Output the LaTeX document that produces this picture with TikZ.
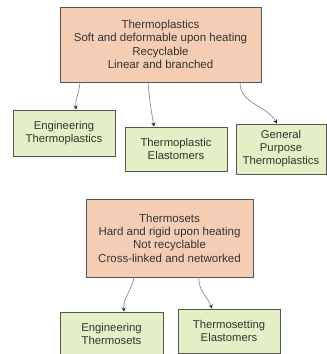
\documentclass[tikz,border=0pt]{standalone}
\usepackage{fontspec}
\setmainfont{Liberation Sans}
\usetikzlibrary{arrows.meta, calc}

\definecolor{peach}{HTML}{F5CDB5}
\definecolor{leaf}{HTML}{E3F0C5}
\definecolor{edge}{HTML}{555555}
\definecolor{ink}{HTML}{333333}

\tikzset{
  classbox/.style={draw=edge, line width=0.9pt, fill=peach, align=center,
    inner sep=0pt, text=ink, font=\fontsize{11.5}{13.3}\selectfont},
  typebox/.style={draw=edge, line width=0.9pt, fill=leaf, align=center,
    inner sep=0pt, text=ink, font=\fontsize{11.3}{13}\selectfont},
  link/.style={draw=black!45, line width=0.7pt,
    -{Stealth[length=4pt, width=4pt, color=black!85]}}
}

\begin{document}
\begin{tikzpicture}[x=1pt, y=1pt]
\useasboundingbox[fill=white] (0,0) rectangle (327,-354);

% thermoplastics
\node[classbox, minimum width=201pt, minimum height=75pt] (tp) at (160.5,-44.5)
  {Thermoplastics\\Soft and deformable upon heating\\Recyclable\\Linear and branched};
\node[typebox, minimum width=102pt, minimum height=46pt] (et) at (64,-133)
  {Engineering\\Thermoplastics};
\node[typebox, minimum width=102pt, minimum height=44pt] (te) at (176,-149)
  {Thermoplastic\\Elastomers};
\node[typebox, minimum width=90pt, minimum height=50pt] (gpt) at (281,-149)
  {General\\Purpose\\Thermoplastics};

\draw[link] ([xshift=-80.5pt]tp.south) to[out=-95, in=95] ([xshift=12pt]et.north);
\draw[link] ([xshift=-12.5pt]tp.south) to[out=-85, in=100] ([xshift=-22pt]te.north);
\draw[link] ([xshift=79.5pt]tp.south) to[out=-90, in=120] ([xshift=-4pt]gpt.north);

% thermosets
\node[classbox, minimum width=167pt, minimum height=78pt] (ts) at (169.5,-238)
  {Thermosets\\Hard and rigid upon heating\\Not recyclable\\Cross-linked and networked};
\node[typebox, minimum width=103pt, minimum height=44pt] (ets) at (111.5,-334)
  {Engineering\\Thermosets};
\node[typebox, minimum width=102pt, minimum height=44pt] (tse) at (229,-331)
  {Thermosetting\\Elastomers};

\draw[link] ([xshift=-35.5pt]ts.south) to[out=-100, in=95] ([xshift=12.5pt]ets.north);
\draw[link] ([xshift=29.5pt]ts.south) to[out=-95, in=110] ([xshift=-17pt]tse.north);
\end{tikzpicture}
\end{document}
